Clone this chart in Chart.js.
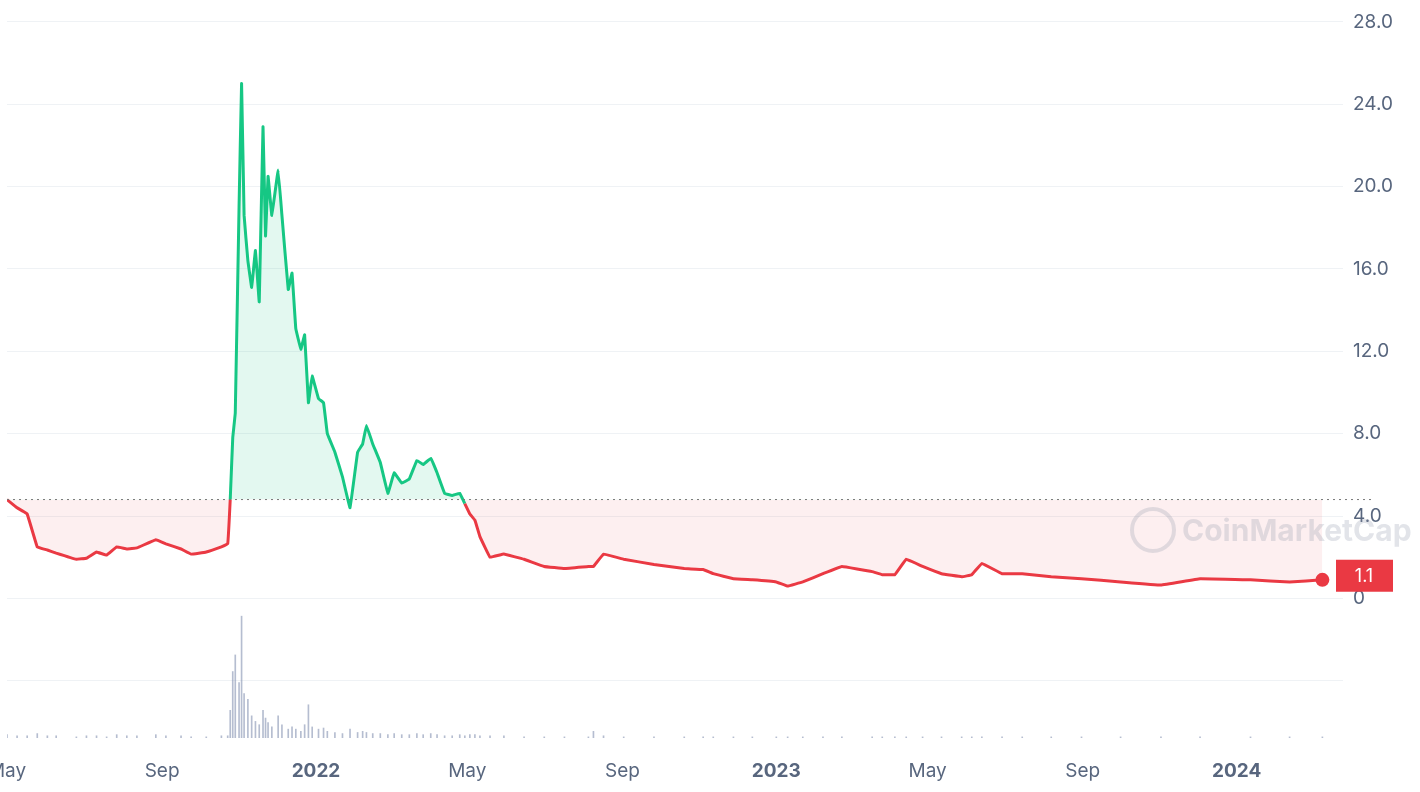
<!DOCTYPE html>
<html><head><meta charset="utf-8">
<script src="https://cdn.jsdelivr.net/npm/chart.js@4"></script>
<style>html,body{margin:0;background:#fff}#wrap{width:1420px;height:792px}</style>
</head><body><div id="wrap"><canvas id="chart"></canvas></div>
<script>
// days counted from 2021-05-01
const days = [0,8,16,24,32,39,55,63,71,79,87,95,103,118,126,138,146,158,170,175,177,179,181,184,186,188,191,194,197,200,203,205,207,210,215,218,223,226,229,233,236,239,242,247,251,254,260,266,272,278,282,285,290,296,302,307,313,319,325,330,336,341,347,353,359,363,367,371,375,383,394,410,426,442,461,465,473,489,513,537,552,560,576,591,610,619,631,647,662,686,694,704,713,726,741,757,765,773,789,805,828,852,883,915,946,986,1017,1043];
const price = [4.8,4.4,4.1,2.5,2.35,2.2,1.9,1.95,2.25,2.1,2.5,2.4,2.45,2.85,2.65,2.4,2.15,2.25,2.5,2.65,4.8,7.8,9.0,19.0,25.0,18.6,16.4,15.1,16.9,14.4,22.9,17.6,20.5,18.6,20.8,18.6,15.0,15.8,13.1,12.1,12.8,9.5,10.8,9.7,9.5,8.0,7.1,5.9,4.4,7.1,7.5,8.4,7.5,6.6,5.1,6.1,5.6,5.8,6.7,6.5,6.8,6.1,5.1,5.0,5.1,4.6,4.1,3.8,3.0,2.0,2.15,1.9,1.55,1.45,1.55,1.55,2.15,1.9,1.65,1.45,1.4,1.2,0.95,0.9,0.8,0.6,0.8,1.2,1.55,1.3,1.15,1.15,1.9,1.55,1.2,1.05,1.15,1.7,1.2,1.2,1.05,0.95,0.8,0.65,0.95,0.9,0.8,0.9,1.1];
const volume = [3,2,2,4,2,2,1,2,2,1,3,2,2,3,2,2,1,1,2,2,25,60,75,50,110,40,35,20,15,12,25,18,14,10,20,12,8,10,8,6,12,30,10,8,9,6,5,4,8,5,6,5,4,4,3,4,3,3,4,3,4,3,2,2,3,2,3,3,2,2,2,1,1,1,1,6,2,1,1,1,1,1,1,1,1,1,1,1,1,1,1,1,1,1,1,1,1,1,1,1,1,1,1,1,1,1,1,1];
const yTicks = [-4,0,4,8,12,16,20,24,28];
const monthTicks = [0,123,245,365,488,610,730,853,975];
const monthLabels = ['May','Sep','2022','May','Sep','2023','May','Sep','2024'];
const baseline = 4.8;

const GREEN = '#16c784', RED = '#ea3943';
const pts = days.map((d,i)=>({x:d,y:price[i]}));
const vpts = days.map((d,i)=>({x:d,y:volume[i]}));

const extras = {
  id:'extras',
  afterDatasetsDraw(c){
    const {ctx, chartArea:a, scales:{x,y}} = c;
    ctx.save();
    const by = y.getPixelForValue(baseline);
    ctx.strokeStyle='#777'; ctx.setLineDash([2,4]); ctx.lineWidth=1;
    ctx.beginPath(); ctx.moveTo(a.left,by); ctx.lineTo(a.right+40,by); ctx.stroke();
    ctx.setLineDash([]);
    ctx.globalAlpha=0.25; ctx.fillStyle='#8a94a6'; ctx.strokeStyle='#8a94a6';
    ctx.lineWidth=4; ctx.beginPath(); ctx.arc(1153,530,21,0,Math.PI*2); ctx.stroke();
    ctx.font='bold 30px Inter, sans-serif'; ctx.textBaseline='middle';
    ctx.fillText('CoinMarketCap',1182,532);
    ctx.globalAlpha=1;
    const last = price[price.length-1];
    const ly = y.getPixelForValue(last);
    ctx.fillStyle=RED; ctx.fillRect(1336,ly-16,57,32);
    ctx.fillStyle='#fff'; ctx.font='18px Inter, sans-serif'; ctx.textAlign='center';
    ctx.fillText(last.toFixed(1),1364,ly+1);
    ctx.restore();
  }
};

new Chart(document.getElementById('chart'), {
  data:{datasets:[
    {type:'line', data:pts, yAxisID:'y', borderWidth:3, tension:0.05,
     pointRadius:pts.map((p,i)=>i===pts.length-1?7:0), pointBackgroundColor:RED, pointBorderWidth:0,
     segment:{borderColor:s=>(s.p0.parsed.y+s.p1.parsed.y)/2>=baseline?GREEN:RED},
     fill:{target:{value:baseline}, above:'rgba(22,199,132,0.12)', below:'rgba(234,57,67,0.08)'}},
    {type:'bar', data:vpts, yAxisID:'v', backgroundColor:'rgba(120,135,170,0.55)', barThickness:1}
  ]},
  options:{
    responsive:true, maintainAspectRatio:false, animation:false,
    layout:{padding:0},
    plugins:{legend:{display:false}, tooltip:{enabled:false}},
    scales:{
      x:{type:'linear', min:0, max:1053, offset:false,
         afterBuildTicks:s=>{s.ticks=monthTicks.map(v=>({value:v}));},
         afterFit:s=>{s.height=54; s.paddingLeft=0; s.paddingRight=0;},
         grid:{display:false}, border:{display:false},
         ticks:{autoSkip:false, maxRotation:0, color:'#58667e', padding:14,
           callback:(v,i)=>monthLabels[i],
           font:c=>({family:'Inter, sans-serif', size:19, weight:/^\d/.test(monthLabels[c.index]||'')?'bold':'normal'})}},
      y:{position:'right', min:-6.78, max:28.72,
         afterBuildTicks:s=>{s.ticks=yTicks.map(v=>({value:v}));},
         afterFit:s=>{s.width=85; s.paddingTop=0; s.paddingBottom=0;},
         grid:{color:'#eff2f5'}, border:{display:false},
         ticks:{color:'#58667e', padding:10, font:{family:'Inter, sans-serif', size:19},
           callback:v=>v<0?'':v===0?'0':v.toFixed(1)}},
      v:{display:false, min:0, max:660}
    }
  },
  plugins:[extras]
});
</script></body></html>
